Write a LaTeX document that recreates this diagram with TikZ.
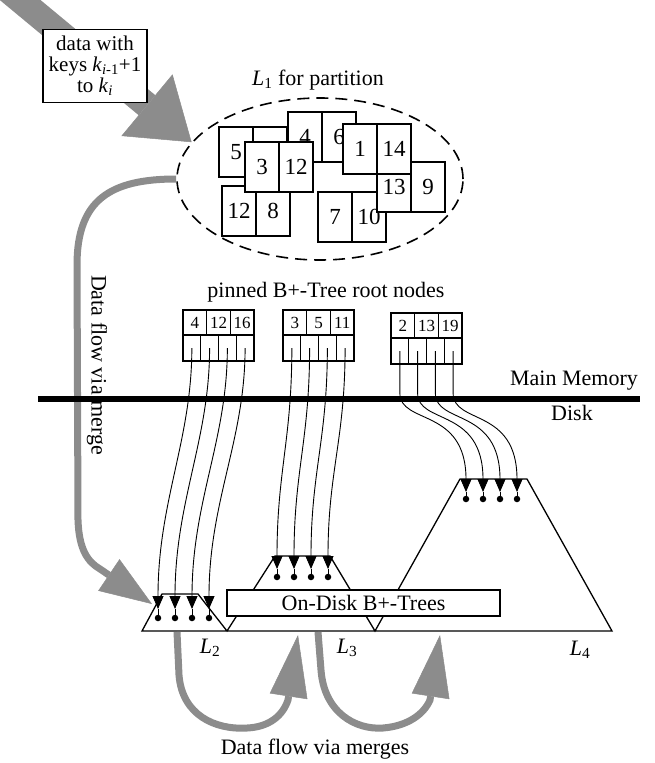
\documentclass[tikz,border=0pt]{standalone}
\usepackage{fontspec}
\setmainfont{Liberation Serif}
\usepackage{tikz}
\usetikzlibrary{shapes.geometric, arrows.meta, positioning}

\begin{document}
\begin{tikzpicture}[
    x=1pt, y=-1pt,
    lbl/.style={font=\fontsize{22}{21}\selectfont, align=center, inner sep=1pt},
    databox/.style={rectangle, draw, fill=white, line width=1.5pt, minimum width=104pt, minimum height=73pt, inner sep=1pt, align=center, font=\fontsize{21}{21}\selectfont},
    cell/.style={rectangle, draw, fill=white, line width=1.3pt, minimum width=34pt, minimum height=50pt, inner sep=0pt, outer sep=0pt, font=\fontsize{23}{23}\selectfont},
    rootbox/.style={rectangle, draw, line width=1.2pt, minimum width=71pt, minimum height=51pt, inner sep=0pt, outer sep=0pt},
    key/.style={font=\fontsize{17}{17}\selectfont, inner sep=0pt},
    ptr/.style={line width=0.9pt, -{Triangle[length=13pt, width=11pt]}},
    dot/.style={circle, fill, inner sep=0pt, minimum size=6.5pt},
    bigin/.style={line width=26pt, draw=black!45, -{Triangle[length=58pt, width=80pt, line width=0.5pt]}},
    flow/.style={line width=7pt, draw=black!45, -{Triangle[length=62pt, width=38pt, line width=0.5pt]}},
    mergeflow/.style={line width=7pt, draw=black!45, -{Triangle[length=52pt, width=38pt, line width=0.5pt]}}
]
    \useasboundingbox (0,0) rectangle (654,763);

    % partition L1
    \node[ellipse, draw, line width=1.6pt, dash pattern=on 12pt off 7pt, minimum width=286pt, minimum height=162pt, inner sep=0pt] (l1) at (320,179) {};
    \node[lbl] (l1lbl) at (318,80) {\textit{L}\textsubscript{1} for partition};

    % incoming data
    \coordinate (src) at (-4,-20);
    \draw[bigin] (src) -- (l1.164);
    \node[databox] (data) at (95,66) {data with\\keys \textit{k}\textsubscript{\textit{i}-1}+1\\to \textit{k}\textsubscript{\textit{i}}};

    \foreach \nm/\x/\y/\a/\b in {pg5/219/127/5/{}, pg4/288/112/4/6, pg12/222/186/12/8, pg3/245/142/3/12, pg7/318/192/7/10, pg13/377/162/13/9, pg1/343/124/1/14}{
        \node[cell, anchor=north west] (\nm) at (\x,\y) {\a};
        \node[cell, right=0pt of \nm] (\nm-r) {\b};
    }

    % pinned roots
    \node[lbl] (pinned) at (326,292) {pinned B+-Tree root nodes};
    \foreach \nm/\x/\y/\ka/\kb/\kc in {r2/183/310/4/12/16, r3/283/310/3/5/11, r4/391/313/2/13/19}{
        \node[rootbox, anchor=north west] (\nm) at (\x,\y) {};
        \draw[line width=1.2pt] (\x,\y+25) -- (\x+71,\y+25)
            (\x+23.7,\y) -- (\x+23.7,\y+25) (\x+47.3,\y) -- (\x+47.3,\y+25)
            (\x+17.75,\y+25) -- (\x+17.75,\y+51) (\x+35.5,\y+25) -- (\x+35.5,\y+51)
            (\x+53.25,\y+25) -- (\x+53.25,\y+51);
        \node[key] (\nm-k1) at (\x+11.8,\y+13) {\ka};
        \node[key] (\nm-k2) at (\x+35.5,\y+13) {\kb};
        \node[key] (\nm-k3) at (\x+59.2,\y+13) {\kc};
        \foreach \i in {1,...,4}
            \coordinate (\nm-\i) at (\x+17.75*\i-8.9,\y+38);
    }

    % main memory / disk
    \draw[mergeflow] (l1.west) .. controls (110,179) and (77,200) .. (77,265) -- (78,520)
        .. controls (79,550) and (88,562) .. (100,569) -- (152,604);
    \node[lbl, rotate=-90] (mergelbl) at (97,365) {Data flow via merge};
    \coordinate (mmw) at (38,399);
    \coordinate (mme) at (640,399);
    \draw[line width=6pt] (mmw) -- (mme);
    \node[lbl] (mem) at (574,381) {Main Memory};
    \node[lbl] (disk) at (572,413) {Disk};

    % on-disk trees
    \draw[line width=1.3pt] (142,631) -- (162,594) -- (198,594) -- (227,631) -- (275,556) -- (330,556)
        -- (375,631) -- (460,479) -- (527,479) -- (612,631) -- cycle;
    \node[rectangle, draw, fill=white, line width=1.3pt, minimum width=273pt, minimum height=26pt, inner sep=0pt, font=\fontsize{22}{22}\selectfont] (ondisk) at (363.5,603) {On-Disk B+-Trees};
    \node[lbl] (l2lbl) at (210,648) {\textit{L}\textsubscript{2}};
    \node[lbl] (l3lbl) at (347,648) {\textit{L}\textsubscript{3}};
    \node[lbl] (l4lbl) at (580,650) {\textit{L}\textsubscript{4}};

    \foreach \i/\tx in {1/158, 2/175, 3/192, 4/209}{
        \coordinate (l2-\i) at (\tx,609);
        \draw[ptr] (r2-\i) .. controls +(0,92) and +(0,-108) .. (l2-\i);
        \draw[line width=0.9pt] (l2-\i) -- ++(0,9) node[dot] (l2d-\i) {};
    }
    \foreach \i/\tx in {1/277, 2/294, 3/311, 4/328}{
        \coordinate (l3-\i) at (\tx,569);
        \draw[ptr] (r3-\i) .. controls +(0,92) and +(0,-98) .. (l3-\i);
        \draw[line width=0.9pt] (l3-\i) -- ++(0,8) node[dot] (l3d-\i) {};
    }
    \foreach \i/\tx in {1/466, 2/483, 3/500, 4/517}{
        \coordinate (l4-\i) at (\tx,492);
        \draw[ptr] (r4-\i) -- ++(0,42) .. controls +(0,32) and +(0,-85) .. (l4-\i);
        \draw[line width=0.9pt] (l4-\i) -- ++(0,7) node[dot] (l4d-\i) {};
    }

    % merges between levels
    \coordinate (l2out) at (177,632);
    \coordinate (l3in) at (298,635);
    \coordinate (l3out) at (318,632);
    \coordinate (l4in) at (440,635);
    \draw[flow] (l2out) -- (179,675) .. controls (182,715) and (215,730) .. (247,728)
        .. controls (270,727) and (283,715) .. (288,700) -- (l3in);
    \draw[flow] (l3out) -- (321,670) .. controls (324,712) and (355,730) .. (383,728)
        .. controls (408,726) and (424,714) .. (430,700) -- (l4in);
    \node[lbl] (mergeslbl) at (315,749) {Data flow via merges};
\end{tikzpicture}
\end{document}
